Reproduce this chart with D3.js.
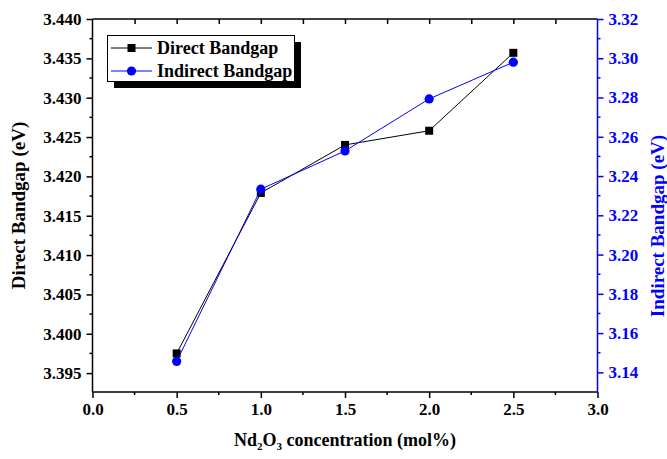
<!DOCTYPE html>
<html><head><meta charset="utf-8">
<script src="https://cdn.jsdelivr.net/npm/d3@7"></script>
<style>body{margin:0;background:#fff}svg{display:block}text{font-family:"Liberation Serif","Times New Roman",serif !important;font-weight:bold}</style>
</head><body><svg id="c" width="667" height="459"></svg>
<script>
const concentration = [0.5, 1.0, 1.5, 2.0, 2.5];
const directBandgap = [3.3975, 3.4179, 3.4240, 3.4258, 3.4357];
const indirectBandgap = [3.1456, 3.2333, 3.2528, 3.2793, 3.2980];
const xTicks = [0, 0.5, 1.0, 1.5, 2.0, 2.5, 3.0];
const leftTicks = [3.395, 3.400, 3.405, 3.410, 3.415, 3.420, 3.425, 3.430, 3.435, 3.440];
const rightTicks = [3.14, 3.16, 3.18, 3.20, 3.22, 3.24, 3.26, 3.28, 3.30, 3.32];

const svg = d3.select("#c");
const L = 92.5, R = 597.5, T = 19, B = 392;
const blue = "#0000ff";
const x = d3.scaleLinear().domain([0, 3]).range([L, R]);
const yL = d3.scaleLinear().domain([3.3926, 3.44]).range([B, T]);
const yR = d3.scaleLinear().domain([3.13, 3.32]).range([B, T]);

// bottom axis
const gB = svg.append("g").attr("transform", `translate(0,${B})`)
  .call(d3.axisBottom(x).tickValues(xTicks).tickFormat(d3.format(".1f")).tickSize(6).tickPadding(5));
gB.append("g").selectAll("line").data(d3.range(0.25, 3, 0.5)).join("line")
  .attr("x1", d => x(d)).attr("x2", d => x(d)).attr("y1", 0).attr("y2", 3).attr("stroke", "#000").attr("stroke-width", 1.5);
// top axis (inward ticks)
const gT = svg.append("g").attr("transform", `translate(0,${T})`)
  .call(d3.axisBottom(x).tickValues(d3.range(0.25, 3, 0.25)).tickFormat("").tickSize(5));
// left axis
const gL = svg.append("g").attr("transform", `translate(${L},0)`)
  .call(d3.axisLeft(yL).tickValues(leftTicks).tickFormat(d3.format(".3f")).tickSize(6).tickPadding(5));
gL.append("g").selectAll("line").data(d3.range(3.3975, 3.44, 0.005)).join("line")
  .attr("y1", d => yL(d)).attr("y2", d => yL(d)).attr("x1", 0).attr("x2", -3).attr("stroke", "#000").attr("stroke-width", 1.5);
// right axis
const gR = svg.append("g").attr("transform", `translate(${R},0)`)
  .call(d3.axisRight(yR).tickValues(rightTicks).tickFormat(d3.format(".2f")).tickSize(6).tickPadding(5));
gR.append("g").selectAll("line").data(d3.range(3.15, 3.32, 0.02)).join("line")
  .attr("y1", d => yR(d)).attr("y2", d => yR(d)).attr("x1", 0).attr("x2", 3).attr("stroke", blue).attr("stroke-width", 1.5);

[gB, gT, gL, gR].forEach(g => g.attr("font-family", null).attr("font-size", null));
[gB, gT, gL].forEach(g => { g.selectAll("path").attr("stroke", "#000").attr("stroke-width", 1.5); g.selectAll(".tick line").attr("stroke", "#000").attr("stroke-width", 1.5); });
gB.selectAll("path").attr("d", `M${L},0H${R}`);
gT.selectAll("path").attr("d", `M${L},0H${R}`);
gL.selectAll("path").attr("d", `M0,${T}V${B}`);
gR.selectAll("path").attr("stroke", blue).attr("stroke-width", 1.5).attr("d", `M0,${T}V${B}`);
gR.selectAll(".tick line").attr("stroke", blue).attr("stroke-width", 1.5);
svg.selectAll(".tick text").style("font-size", "17px").style("font-family", "'Liberation Serif', serif").style("font-weight", "bold");
gR.selectAll(".tick text").attr("fill", blue);
gL.selectAll(".tick text").attr("fill", "#000");
gB.selectAll(".tick text").attr("fill", "#000");

// series
const lineD = d3.line().x((d, i) => x(concentration[i])).y(d => yL(d));
const lineI = d3.line().x((d, i) => x(concentration[i])).y(d => yR(d));
svg.append("path").attr("d", lineD(directBandgap)).attr("fill", "none").attr("stroke", "#000").attr("stroke-width", 1);
svg.append("g").selectAll("rect").data(directBandgap).join("rect")
  .attr("x", (d, i) => x(concentration[i]) - 4).attr("y", d => yL(d) - 4).attr("width", 8).attr("height", 8).attr("fill", "#000");
svg.append("path").attr("d", lineI(indirectBandgap)).attr("fill", "none").attr("stroke", blue).attr("stroke-width", 1);
svg.append("g").selectAll("circle").data(indirectBandgap).join("circle")
  .attr("cx", (d, i) => x(concentration[i])).attr("cy", d => yR(d)).attr("r", 4.6).attr("fill", blue);

// legend
const lg = svg.append("g");
lg.append("rect").attr("x", 114).attr("y", 42).attr("width", 187).attr("height", 46).attr("fill", "#000");
lg.append("rect").attr("x", 107.5).attr("y", 35.5).attr("width", 187).attr("height", 46).attr("fill", "#fff").attr("stroke", "#000").attr("stroke-width", 1);
const items = [{name: "Direct Bandgap", c: "#000", m: "sq"}, {name: "Indirect Bandgap", c: blue, m: "ci"}];
items.forEach((it, i) => {
  const yy = 48 + i * 23;
  lg.append("line").attr("x1", 111).attr("x2", 152).attr("y1", yy).attr("y2", yy).attr("stroke", it.c).attr("stroke-width", 1);
  if (it.m === "sq") lg.append("rect").attr("x", 127.5).attr("y", yy - 4).attr("width", 8).attr("height", 8).attr("fill", it.c);
  else lg.append("circle").attr("cx", 131.5).attr("cy", yy).attr("r", 4.6).attr("fill", it.c);
  lg.append("text").attr("x", 157).attr("y", yy + 6).style("font-size", "18px").attr("fill", "#000").text(it.name);
});

// axis titles
svg.append("text").attr("transform", `translate(25,${(T + B) / 2}) rotate(-90)`).attr("text-anchor", "middle")
  .style("font-size", "19px").attr("fill", "#000").text("Direct Bandgap (eV)");
svg.append("text").attr("transform", `translate(664,226) rotate(-90)`).attr("text-anchor", "middle")
  .style("font-size", "19px").attr("fill", blue).text("Indirect Bandgap (eV)");
const xt = svg.append("text").attr("x", (L + R) / 2).attr("y", 446).attr("text-anchor", "middle").style("font-size", "18px").attr("fill", "#000");
xt.append("tspan").text("Nd");
xt.append("tspan").style("font-size", "11px").attr("dy", 4).text("2");
xt.append("tspan").attr("dy", -4).text("O");
xt.append("tspan").style("font-size", "11px").attr("dy", 4).text("3");
xt.append("tspan").attr("dy", -4).text(" concentration (mol%)");
</script></body></html>
